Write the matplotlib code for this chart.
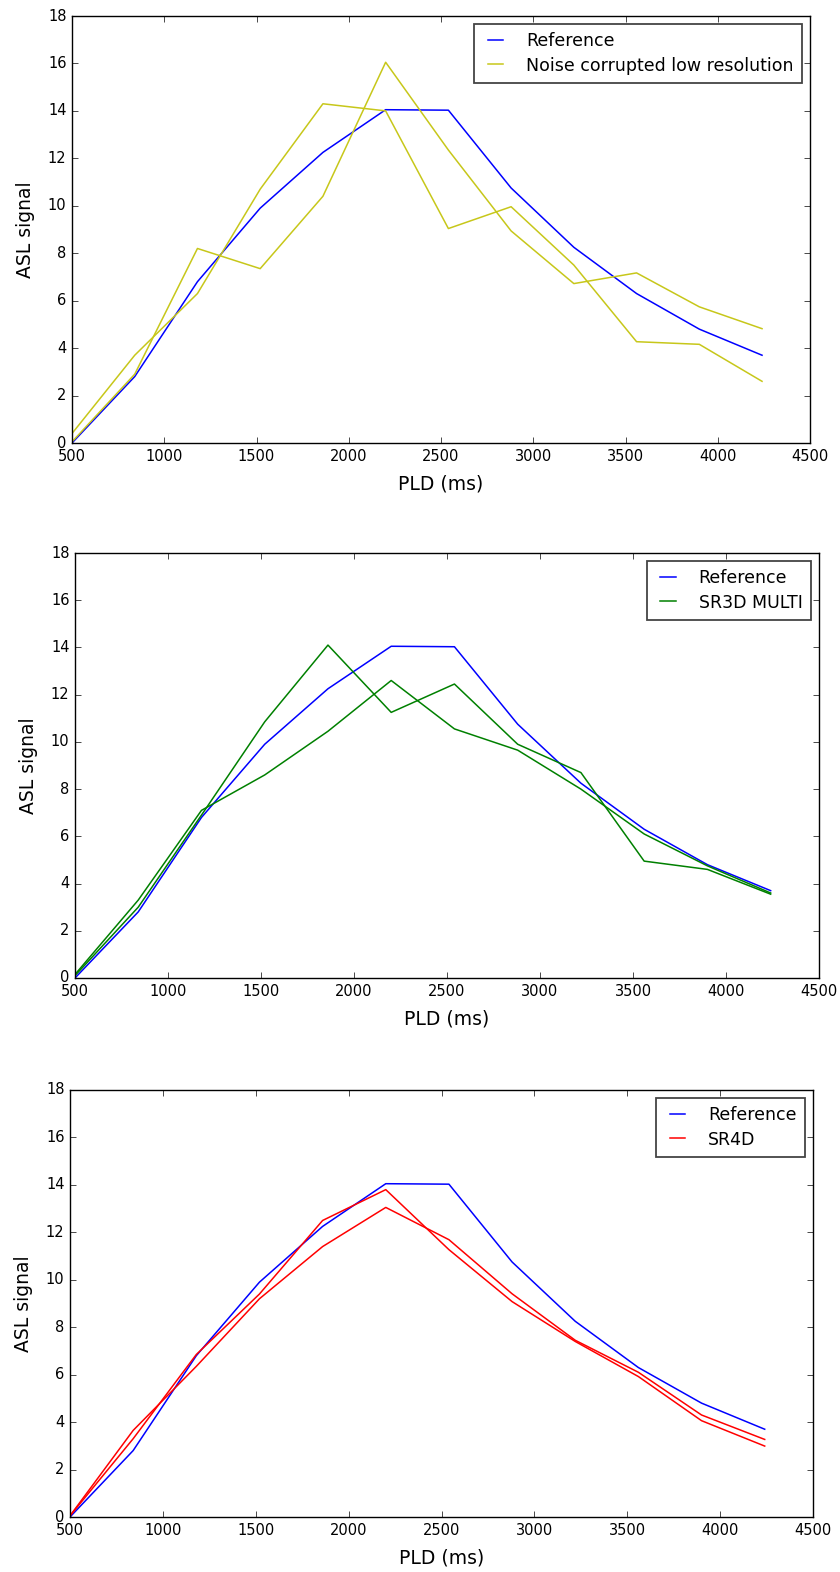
import matplotlib
matplotlib.use("Agg")
import matplotlib.pyplot as plt

# post labelling delays (ms)
pld = [500, 840, 1180, 1520, 1860, 2200, 2540, 2880, 3220, 3560, 3900, 4240]

# ground truth curve, same in every panel
reference = [0.0, 2.8, 6.8, 9.9, 12.25, 14.05, 14.03, 10.75, 8.25, 6.3, 4.8, 3.7]

# panel 1 - noise corrupted low resolution (two voxels)
noisy_a = [0.05, 2.9, 8.2, 7.35, 10.4, 16.05, 12.35, 8.94, 6.72, 7.17, 5.74, 4.82]
noisy_b = [0.4, 3.7, 6.3, 10.7, 14.3, 14.0, 9.04, 9.96, 7.5, 4.27, 4.16, 2.6]

# panel 2 - SR3D MULTI
sr3d_a = [0.1, 3.0, 6.9, 10.85, 14.1, 11.25, 12.45, 9.9, 8.7, 4.95, 4.6, 3.55]
sr3d_b = [0.15, 3.3, 7.1, 8.6, 10.45, 12.6, 10.55, 9.65, 8.0, 6.1, 4.75, 3.6]

# panel 3 - SR4D
sr4d_a = [0.05, 3.3, 6.85, 9.4, 12.5, 13.8, 11.27, 9.08, 7.4, 5.92, 4.06, 2.99]
sr4d_b = [0.05, 3.65, 6.35, 9.2, 11.4, 13.05, 11.69, 9.41, 7.45, 6.1, 4.3, 3.27]

xticks = [500, 1000, 1500, 2000, 2500, 3000, 3500, 4000, 4500]
yticks = [0, 2, 4, 6, 8, 10, 12, 14, 16, 18]

plt.style.use("classic")
plt.rcParams["font.family"] = "DejaVu Sans"

W, H = 840, 1572
fig = plt.figure(figsize=(W / 100, H / 100), dpi=100, facecolor="white")


def make_axes(left, top, right, bottom):
    # pixel box -> figure fraction
    return fig.add_axes([left / W, 1 - bottom / H, (right - left) / W, (bottom - top) / H])


def draw_panel(ax, curves, color, label):
    ax.plot(pld, reference, color="b", lw=1.1, label="Reference")
    for i, c in enumerate(curves):
        ax.plot(pld, c, color=color, lw=1.1, label=label if i == 0 else None)
    ax.set_xlim(500, 4500)
    ax.set_ylim(0, 18)
    ax.set_xticks(xticks)
    ax.set_yticks(yticks)
    ax.tick_params(labelsize=10.5, direction="in", top=True, right=True, length=4)
    ax.set_xlabel("PLD (ms)", fontsize=13.5, labelpad=8)
    ax.set_ylabel("ASL signal", fontsize=13.5, labelpad=9)
    ax.set_facecolor("white")
    leg = ax.legend(loc="upper right", fontsize=12.5, frameon=True, fancybox=False,
                    handlelength=1.5, borderpad=0.5, labelspacing=0.35, handletextpad=1.0,
                    borderaxespad=0.45)
    leg.get_frame().set_edgecolor("#444444")
    leg.get_frame().set_linewidth(1.3)


ax1 = make_axes(72, 16, 810, 443)
draw_panel(ax1, [noisy_a, noisy_b], (0.78, 0.78, 0.1), "Noise corrupted low resolution")

ax2 = make_axes(75, 553, 819, 978)
draw_panel(ax2, [sr3d_a, sr3d_b], (0.0, 0.5, 0.0), "SR3D MULTI")

ax3 = make_axes(70, 1090, 813, 1517)
draw_panel(ax3, [sr4d_a, sr4d_b], "r", "SR4D")

fig.savefig("out.png", dpi=100, facecolor="white")
